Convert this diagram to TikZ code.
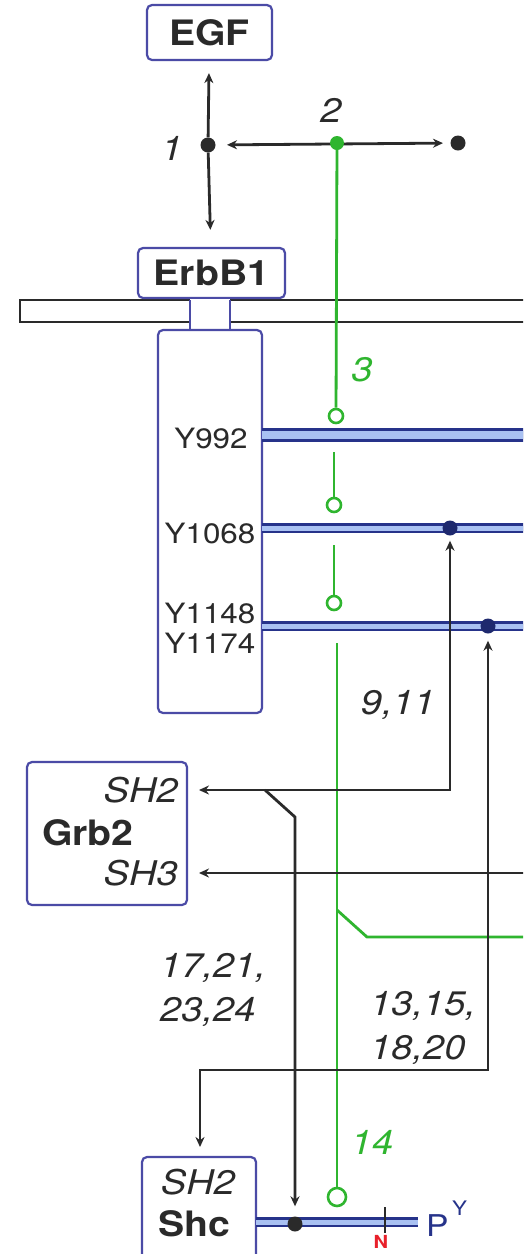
\documentclass[tikz,border=0pt]{standalone}
\usepackage{fontspec}
\setmainfont{TeX Gyre Heros}[FakeStretch=1.12]
\usetikzlibrary{arrows.meta}
\definecolor{boxblue}{HTML}{4B4BA6}
\definecolor{navy}{HTML}{26338A}
\definecolor{lblue}{HTML}{A9C1F2}
\definecolor{sgreen}{HTML}{2FB52F}
\definecolor{ink}{HTML}{2A2A2A}
\definecolor{pred}{HTML}{E8202A}
\newcommand{\bfnt}{\fontsize{35}{40}\selectfont\bfseries}
\newcommand{\nfnt}{\fontsize{34}{44}\selectfont\itshape}
\newcommand{\yfnt}{\fontsize{28}{30}\selectfont}
\begin{document}
\begin{tikzpicture}[x=1pt,y=-1pt,
  box/.style={draw=boxblue, line width=2.2pt, rounded corners=5pt, fill=white, inner sep=0pt, text=ink},
  conn/.style={draw=ink, line width=2.8pt},
  gline/.style={draw=sgreen, line width=2.8pt},
  dot/.style={circle, fill=ink, inner sep=0pt, minimum size=15pt},
  pdot/.style={circle, fill=navy!80!black, inner sep=0pt, minimum size=15pt},
  gcirc/.style={circle, draw=sgreen, line width=2.6pt, fill=white, inner sep=0pt, minimum size=14pt},
  lbl/.style={inner sep=0pt, text=ink},
  >={Stealth[length=10pt,width=9pt]}]
\useasboundingbox (0,0) rectangle (523,1254);
\clip (0,0) rectangle (523,1254);
\fill[white] (0,0) rectangle (523,1254);

% membrane
\draw[ink, line width=2pt, fill=white] (20,300) rectangle (560,322);
% boxes
\node[box, minimum width=125pt, minimum height=55pt] (egf) at (209.5,32.5) {\bfnt EGF};
\node[box, minimum width=147pt, minimum height=50pt] (erb) at (211.5,273) {\bfnt ErbB1};
\fill[white] (190,299) rectangle (230,331);
\draw[boxblue, line width=2.2pt] (190,300) -- (190,331) (230,300) -- (230,331);
\node[box, minimum width=104pt, minimum height=383pt] (rec) at (210,521.5) {};
\node[box, minimum width=160pt, minimum height=143pt] (grb) at (107,833.5) {};
\node[box, minimum width=114pt, minimum height=110pt] (shc) at (199,1212) {};

% receptor labels
\node[lbl] (y992) at (211,438) {\yfnt Y992};
\node[lbl] (y1068) at (210,533) {\yfnt Y1068};
\node[lbl] (y1148) at (210,613) {\yfnt Y1148};
\node[lbl] (y1174) at (210,643) {\yfnt Y1174};

% Grb2 labels
\node[lbl, anchor=east] (gsh2) at (178,790) {\nfnt SH2};
\node[lbl, anchor=west] (gname) at (42,833) {\bfnt Grb2};
\node[lbl, anchor=east] (gsh3) at (178,873) {\nfnt SH3};
% Shc labels
\node[lbl] (ssh2) at (198,1182) {\nfnt SH2};
\node[lbl] (sname) at (194,1224) {\bfnt Shc};

% phospho lines
\coordinate (l992a) at (262,435); \coordinate (l992b) at (560,435);
\coordinate (l1068a) at (262,528); \coordinate (l1068b) at (560,528);
\coordinate (l1148a) at (262,626); \coordinate (l1148b) at (560,626);
\coordinate (lshca) at (256,1222); \coordinate (lshcb) at (418,1222);
\draw[navy, line width=14pt] (l992a) -- (l992b);
\draw[lblue, line width=8pt] (l992a) -- (l992b);
\foreach \a/\b in {l1068a/l1068b, l1148a/l1148b, lshca/lshcb}{
  \draw[navy, line width=10pt] (\a) -- (\b);
  \draw[lblue, line width=5pt] (\a) -- (\b);
}

% top dots and arrows
\node[dot] (d1) at (208,145) {};
\node[dot] (d2) at (458,143) {};
\draw[conn,->,shorten >=12pt] (d1) -- (egf);
\draw[conn,->,shorten >=17pt] (d1) -- (erb);
\draw[conn,<->,shorten <=19pt,shorten >=15pt] (d1.center) -- (d2.center);
\node[lbl] (n1) at (172,148) {\nfnt 1};
\node[lbl] (n2) at (331,110) {\nfnt 2};

% green pathway
\node[circle, fill=sgreen, inner sep=0pt, minimum size=14pt] (g2) at (337,143) {};
\node[gcirc] (c3) at (336,416) {};
\node[gcirc] (c4) at (334,505) {};
\node[gcirc] (c5) at (334,603) {};
\node[gcirc, minimum size=18pt] (c14) at (337,1197) {};
\coordinate (s2) at (334,452);
\coordinate (s3) at (334,545);
\coordinate (s4) at (337,643);
\coordinate (b1) at (337,910);
\coordinate (b2) at (367,937);
\coordinate (b3) at (560,937);
\draw[gline] (g2.center) -- (c3);
\draw[gline] (s2) -- (c4);
\draw[gline] (s3) -- (c5);
\draw[gline] (s4) -- (c14);
\draw[gline] (b1) -- (b2) -- (b3);
\node[inner sep=0pt, text=sgreen] (n3) at (362,370) {\nfnt 3};
\node[inner sep=0pt, text=sgreen] (n14) at (372,1142) {\nfnt 14};

% phospho dots
\node[pdot] (p1068) at (450,528) {};
\node[pdot] (p1148) at (488,626) {};
\node[dot] (pshc) at (295,1224) {};

% connectors
\coordinate (a0) at (199,790);
\coordinate (a1) at (450,790);
\draw[conn,<->,shorten >=5pt] (a0) -- (a1) -- (p1068);
\coordinate (bb0) at (200,1147);
\coordinate (bb1) at (200,1070);
\coordinate (bb2) at (488,1070);
\draw[conn,<->,shorten >=7pt] (bb0) -- (bb1) -- (bb2) -- (p1148);
\coordinate (cc0) at (265,790);
\coordinate (cc1) at (295,817);
\draw[conn,->,shorten >=10pt] (cc0) -- (cc1) -- (pshc);
\coordinate (sh3a) at (560,873);
\coordinate (sh3b) at (199,873);
\draw[conn,->] (sh3a) -- (sh3b);

% number labels
\node[lbl] (n911) at (398,705) {\nfnt 9,11};
\node[lbl, anchor=west, align=left, font=\nfnt] (n17) at (160,990) {17,21,\\23,24};
\node[lbl, anchor=west, align=left, font=\nfnt] (n13) at (370,1028) {13,15,\\18,20};

% Shc end
\draw[ink, line width=1.8pt] (385,1207) -- (385,1233);
\node[inner sep=0pt, text=pred] (rn) at (381,1242) {\fontsize{18}{18}\selectfont\bfseries N};
\node[inner sep=0pt, text=navy, anchor=west] (py) at (426,1226) {\fontsize{30}{30}\selectfont P};
\node[inner sep=0pt, text=navy, anchor=west] (pyy) at (452,1208) {\fontsize{20}{20}\selectfont Y};
\end{tikzpicture}
\end{document}
